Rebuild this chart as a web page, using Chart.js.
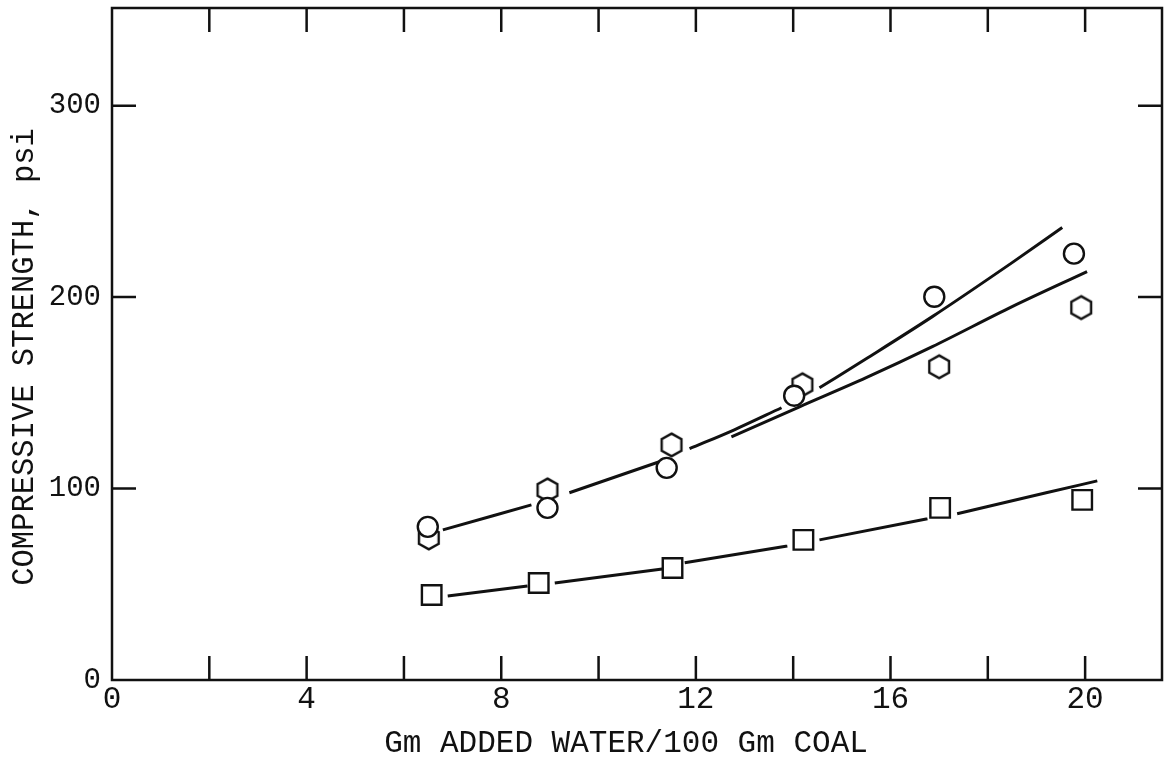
<!DOCTYPE html>
<html>
<head>
<meta charset="utf-8">
<script src="https://cdn.jsdelivr.net/npm/chart.js@4.4.0/dist/chart.umd.min.js"></script>
<style>
html,body{margin:0;padding:0;background:#fff;}
canvas{display:block;}
</style>
</head>
<body>
<canvas id="c" width="1166" height="762"></canvas>
<script>
// ---- data ----
const xTickLabels = [0, 4, 8, 12, 16, 20];
const xTickMarks  = [2, 4, 6, 8, 10, 12, 14, 16, 18, 20];
const yTickLabels = [0, 100, 200, 300];
const yTickMarks  = [100, 200, 300];

const circleX = [6.49, 8.95, 11.40, 14.02, 16.90, 19.77];
const circleY = [80.0, 89.9, 110.8, 148.5, 200.2, 222.7];

const hexX = [6.51, 8.95, 11.50, 14.19, 17.00, 19.92];
const hexY = [74.2, 99.3, 122.8, 154.2, 163.6, 194.5];

const squareX = [6.57, 8.77, 11.52, 14.21, 17.02, 19.94];
const squareY = [44.4, 50.7, 58.5, 73.2, 89.9, 94.1];

// fitted curves (null = break in the hand-drawn line around a marker)
const curveAX = [6.80, 8.62, 9.00, 9.40, 11.25, 11.55, 11.87, 12.79, 13.76, 14.10, 14.54, 15.50, 16.86, 18.50, 19.53];
const curveAY = [78.4, 91.5, null, 97.8, 114.0, null, 120.8, 130.7, 142.2, null, 152.6, 167.8, 189.8, 218.0, 236.3];

const curveBX = [12.73, 14.13, 15.50, 16.86, 18.50, 20.04];
const curveBY = [127.0, 142.7, 157.9, 174.1, 195.0, 213.3];

const curveCX = [6.90, 8.54, 8.80, 9.10, 11.31, 11.55, 11.77, 13.88, 14.20, 14.54, 16.76, 17.05, 17.37, 19.20, 20.25];
const curveCY = [43.9, 49.1, null, 50.7, 58.0, null, 61.2, 70.0, null, 73.2, 84.2, null, 86.8, 97.8, 104.0];

const xTitle = 'Gm ADDED WATER/100 Gm COAL';
const yTitle = 'COMPRESSIVE STRENGTH, psi';

// ---- styling ----
const INK = '#111';
const FONT = '"Liberation Mono", "DejaVu Sans Mono", monospace';

function pts(xs, ys) { return xs.map((x, i) => ({ x: x, y: ys[i] })); }

function makeHex(r, lw) {
  const s = Math.ceil(2 * r + lw + 4);
  const cv = document.createElement('canvas');
  cv.width = s; cv.height = s;
  const c = cv.getContext('2d');
  c.translate(s / 2, s / 2);
  c.beginPath();
  for (let k = 0; k < 6; k++) {
    const a = -Math.PI / 2 + k * Math.PI / 3;
    c.lineTo(r * Math.cos(a), r * Math.sin(a));
  }
  c.closePath();
  c.fillStyle = '#fff';
  c.fill();
  c.lineWidth = lw;
  c.strokeStyle = INK;
  c.stroke();
  return cv;
}
const hexImg = makeHex(11.4, 2.4);

function lineDs(xs, ys) {
  return {
    data: pts(xs, ys),
    showLine: true,
    borderColor: INK,
    borderWidth: 3,
    pointRadius: 0,
    pointHoverRadius: 0,
    tension: 0.4,
    cubicInterpolationMode: 'monotone',
    spanGaps: false,
    fill: false
  };
}

const framePlugin = {
  id: 'frame',
  afterDatasetsDraw(chart) {
    const ctx = chart.ctx;
    const a = chart.chartArea;
    const sx = chart.scales.x, sy = chart.scales.y;
    const L = 24;
    ctx.save();
    ctx.strokeStyle = INK;
    ctx.lineWidth = 2.5;
    ctx.lineCap = 'butt';
    ctx.strokeRect(a.left, a.top, a.right - a.left, a.bottom - a.top);
    ctx.beginPath();
    xTickMarks.forEach(v => {
      const px = sx.getPixelForValue(v);
      ctx.moveTo(px, a.bottom); ctx.lineTo(px, a.bottom - L);
      ctx.moveTo(px, a.top); ctx.lineTo(px, a.top + L);
    });
    yTickMarks.forEach(v => {
      const py = sy.getPixelForValue(v);
      ctx.moveTo(a.left, py); ctx.lineTo(a.left + L, py);
      ctx.moveTo(a.right, py); ctx.lineTo(a.right - L, py);
    });
    ctx.stroke();

    // axis titles
    ctx.fillStyle = INK;
    ctx.textAlign = 'center';
    ctx.textBaseline = 'alphabetic';
    ctx.font = '31px ' + FONT;
    ctx.fillText(xTitle, 626, 752);
    ctx.save();
    ctx.translate(33, 357);
    ctx.rotate(-Math.PI / 2);
    ctx.font = '30.5px ' + FONT;
    ctx.fillText(yTitle, 0, 0);
    ctx.restore();
    ctx.restore();
  }
};

function zeroPad(s) { s.paddingLeft = 0; s.paddingRight = 0; s.paddingTop = 0; s.paddingBottom = 0; }

new Chart(document.getElementById('c'), {
  type: 'scatter',
  data: {
    datasets: [
      {
        data: pts(circleX, circleY),
        pointStyle: 'circle',
        pointRadius: 10,
        pointHoverRadius: 10,
        pointBorderWidth: 2.4,
        pointBorderColor: INK,
        pointBackgroundColor: '#fff',
        showLine: false
      },
      {
        data: pts(hexX, hexY),
        pointStyle: hexImg,
        pointRadius: 11,
        showLine: false
      },
      {
        data: pts(squareX, squareY),
        pointStyle: 'rect',
        pointRadius: 13.8,
        pointHoverRadius: 13.8,
        pointBorderWidth: 2.4,
        pointBorderColor: INK,
        pointBackgroundColor: '#fff',
        showLine: false
      },
      lineDs(curveAX, curveAY),
      lineDs(curveBX, curveBY),
      lineDs(curveCX, curveCY)
    ]
  },
  options: {
    responsive: false,
    devicePixelRatio: 1,
    animation: false,
    events: [],
    layout: { autoPadding: false, padding: { top: 8, right: 4, left: 0, bottom: 0 } },
    plugins: { legend: { display: false }, tooltip: { enabled: false }, title: { display: false } },
    scales: {
      x: {
        type: 'linear',
        min: 0,
        max: 21.58,
        grid: { display: false, drawTicks: false },
        border: { display: false },
        afterBuildTicks: s => { s.ticks = xTickLabels.map(v => ({ value: v })); },
        afterFit: s => { s.height = 82; zeroPad(s); },
        ticks: {
          color: INK,
          padding: 1,
          maxRotation: 0,
          autoSkip: false,
          font: { family: FONT, size: 31 },
          callback: v => String(v)
        },
        title: { display: false }
      },
      y: {
        type: 'linear',
        min: 0,
        max: 351,
        grid: { display: false, drawTicks: false },
        border: { display: false },
        afterBuildTicks: s => { s.ticks = yTickLabels.map(v => ({ value: v })); },
        afterFit: s => { s.width = 112; zeroPad(s); },
        ticks: {
          color: INK,
          padding: 11,
          autoSkip: false,
          font: { family: FONT, size: 29 },
          callback: v => String(v)
        },
        title: { display: false }
      }
    }
  },
  plugins: [framePlugin]
});
</script>
</body>
</html>
